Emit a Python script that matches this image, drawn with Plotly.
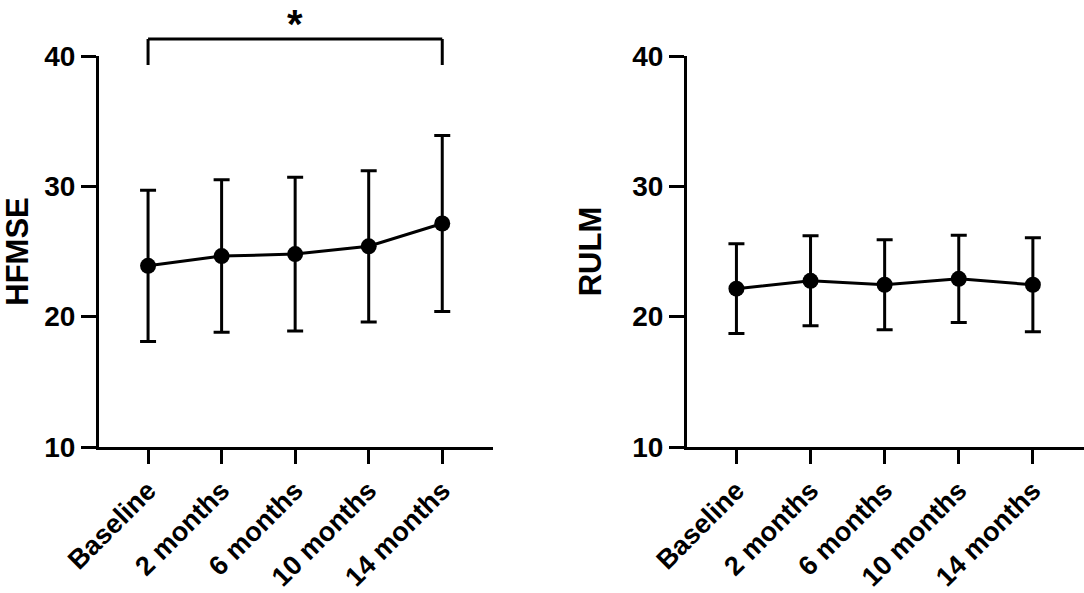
import plotly.graph_objects as go

# time points
visits = ["Baseline", "2 months", "6 months", "10 months", "14 months"]

# HFMSE mean and SD
hfmse_mean = [23.9, 24.65, 24.8, 25.4, 27.15]
hfmse_sd = [5.8, 5.85, 5.9, 5.8, 6.75]

# RULM mean and SD
rulm_mean = [22.15, 22.75, 22.45, 22.9, 22.45]
rulm_sd = [3.45, 3.45, 3.45, 3.35, 3.6]

y_ticks = [10, 20, 30, 40]

W, H = 1084, 593
FONT = "Arial, Liberation Sans, sans-serif"


def series(x_ax, y_ax, means, sds):
    return go.Scatter(
        x=visits, y=means, xaxis=x_ax, yaxis=y_ax,
        mode="lines+markers",
        line=dict(color="black", width=3),
        marker=dict(color="black", size=16),
        error_y=dict(type="data", array=sds, visible=True,
                     color="black", thickness=3, width=8),
        showlegend=False,
    )


fig = go.Figure([series("x", "y", hfmse_mean, hfmse_sd),
                 series("x2", "y2", rulm_mean, rulm_sd)])

y_dom = [1 - 447 / H, 1 - 56 / H]
common_x = dict(
    type="category", range=[-0.667, 4.69], automargin=False,
    showline=True, linecolor="black", linewidth=3,
    ticks="outside", ticklen=14, tickwidth=3, tickcolor="black",
    tickangle=-45, tickfont=dict(family=FONT, size=27, color="black", weight="bold"),
    showgrid=False, zeroline=False,
)
common_y = dict(
    range=[10, 40], tickvals=y_ticks, automargin=False,
    showline=True, linecolor="black", linewidth=3,
    ticks="outside", ticklen=15, tickwidth=3, tickcolor="black",
    tickfont=dict(family=FONT, size=28, color="black", weight="bold"),
    showgrid=False, zeroline=False, domain=y_dom,
)

fig.update_layout(
    width=W, height=H,
    margin=dict(l=0, r=0, t=0, b=0, autoexpand=False),
    plot_bgcolor="white", paper_bgcolor="white",
    xaxis=dict(common_x, domain=[99 / W, 493 / W], anchor="y"),
    yaxis=dict(common_y, anchor="x",
               title=dict(text="HFMSE", standoff=22,
                          font=dict(family=FONT, size=31, color="black", weight="bold"))),
    xaxis2=dict(common_x, domain=[687 / W, 1.0], anchor="y2"),
    yaxis2=dict(common_y, anchor="x2",
                title=dict(text="RULM", standoff=22,
                           font=dict(family=FONT, size=31, color="black", weight="bold"))),
)

# significance bracket between Baseline and 14 months
bracket_top = 1 - 39 / H
bracket_low = 1 - 65 / H
for x0, y0, x1, y1 in [(visits[0], bracket_low, visits[0], bracket_top),
                       (visits[0], bracket_top, visits[4], bracket_top),
                       (visits[4], bracket_top, visits[4], bracket_low)]:
    fig.add_shape(type="line", xref="x", yref="paper",
                  x0=x0, y0=y0, x1=x1, y1=y1,
                  line=dict(color="black", width=3))

fig.add_annotation(x=visits[2], xref="x", y=1, yref="paper",
                   text="*", showarrow=False, yanchor="top",
                   font=dict(family=FONT, size=40, color="black", weight="bold"))

# drop the default page margin so the figure sits at the window corner
fig.write_html("out.html", config={"displayModeBar": False},
               post_script="document.body.style.margin='0';")
